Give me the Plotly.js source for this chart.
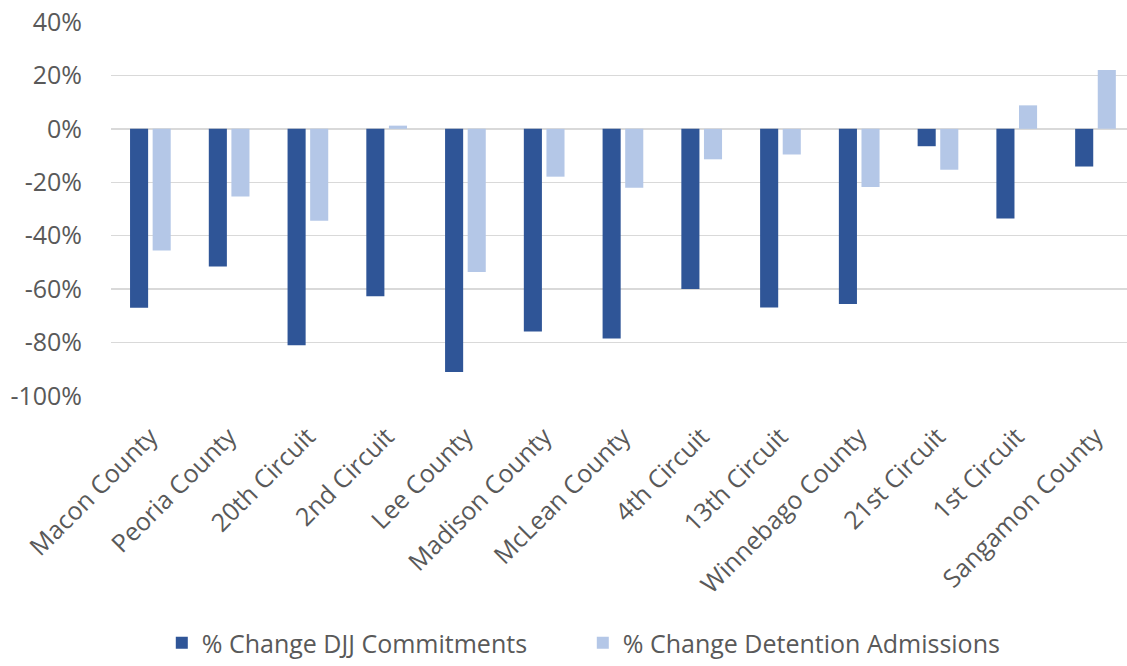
<!DOCTYPE html>
<html>
<head>
<meta charset="utf-8">
<script src="https://cdn.plot.ly/plotly-3.0.1.min.js"></script>
<style>html,body{margin:0;padding:0;background:#fff;overflow:hidden}#chart{width:1127px;height:666px}</style>
</head>
<body>
<div id="chart"></div>
<script>
const categories = ["Macon County","Peoria County","20th Circuit","2nd Circuit","Lee County","Madison County","McLean County","4th Circuit","13th Circuit","Winnebago County","21st Circuit","1st Circuit","Sangamon County"];
const djjCommitments = [-67, -51.5, -81, -62.7, -91, -75.9, -78.5, -59.9, -66.9, -65.6, -6.5, -33.6, -14.1];
const detentionAdmissions = [-45.5, -25.3, -34.4, 1.2, -53.6, -17.9, -22, -11.4, -9.6, -21.8, -15.3, 8.8, 22];
const seriesNames = ["% Change DJJ Commitments", "% Change Detention Admissions"];
const yTickValues = [40, 20, 0, -20, -40, -60, -80, -100];
const yTickLabels = ["40%", "20%", "0%", "-20%", "-40%", "-60%", "-80%", "-100%"];

const font = {family: "Open Sans, sans-serif", color: "#595959", size: 25};

const traces = [
  {type: "bar", x: categories, y: djjCommitments, name: seriesNames[0], marker: {color: "#2F5597"}, hoverinfo: "skip"},
  {type: "bar", x: categories, y: detentionAdmissions, name: seriesNames[1], marker: {color: "#B4C7E7"}, hoverinfo: "skip"}
];

const layout = {
  width: 1127, height: 666,
  margin: {l: 111, r: 0, t: 22, b: 264},
  paper_bgcolor: "#ffffff", plot_bgcolor: "#ffffff",
  font: font,
  barmode: "group",
  bargap: 0.426,
  bargroupgap: 0.2,
  showlegend: true,
  legend: {orientation: "h", x: 0.05, xanchor: "left", y: -0.662, yanchor: "middle", font: font,
           itemwidth: 30, entrywidth: 376, entrywidthmode: "pixels"},
  xaxis: {
    type: "category", range: [-0.5, 12.4], tickangle: -45, tickfont: font,
    showgrid: false, showline: false, zeroline: false, ticks: "", automargin: false,
    ticklabelstandoff: 20
  },
  yaxis: {
    range: [-100, 40], tickmode: "array", tickvals: yTickValues, ticktext: yTickLabels, tickfont: font,
    showgrid: true, gridcolor: "#d9d9d9", gridwidth: 1.5,
    zeroline: true, zerolinecolor: "#d9d9d9", zerolinewidth: 1.5,
    showline: false, ticks: "", ticklabelstandoff: 28, automargin: false
  }
};

Plotly.newPlot("chart", traces, layout, {displayModeBar: false, staticPlot: true});
</script>
</body>
</html>
